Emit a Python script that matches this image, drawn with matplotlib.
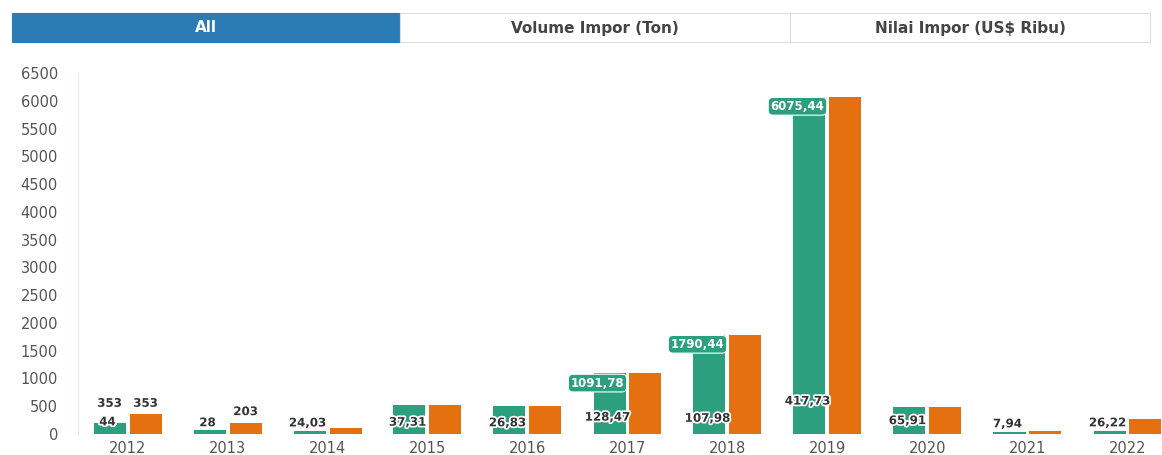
import matplotlib
matplotlib.use("Agg")
import matplotlib.pyplot as plt
import matplotlib.patheffects as pe
from matplotlib.patches import Rectangle
import numpy as np

# Data (comma = decimal separator)
years = ['2012', '2013', '2014', '2015', '2016', '2017', '2018', '2019', '2020', '2021', '2022']
volume = [44, 28, 24.03, 37.31, 26.83, 128.47, 107.98, 417.73, 65.91, 7.94, 26.22]
# green bar heights as they appear in the screenshot
volume_bar = [200, 70, 60, 520, 500, 1090, 1790, 6075, 490, 40, 60]
nilai = [353, 203, 100, 525, 500, 1091.78, 1790.44, 6075.44, 490, 50, 265]
# which nilai labels are visible: 'top' above the orange bar, 'box' inside the green bar
nilai_label_style = ['top', 'top', '', '', '', 'box', 'box', 'box', '', '', '']
tabs = ['All', 'Volume Impor (Ton)', 'Nilai Impor (US$ Ribu)']

green = '#2b9f7e'
orange = '#e5700f'
blue = '#2b7bb5'


def fmt(v):
    return f"{v:g}".replace('.', ',')


W, H = 1162, 455
fig = plt.figure(figsize=(W / 100, H / 100), dpi=100)
ax = fig.add_axes([77.5 / W, (H - 434) / H, 1 - 77.5 / W, (434 - 73) / H])

x = np.arange(len(years))
bw = 0.32
ax.bar(x - 0.18, volume_bar, width=bw, color=green, zorder=2)
ax.bar(x + 0.18, nilai, width=bw, color=orange, zorder=2)

halo = [pe.withStroke(linewidth=2.5, foreground='white')]

# volume labels near the base of the green bars
for i, v in enumerate(volume):
    ax.annotate(fmt(v), (x[i] - 0.2, v), xytext=(0, 7), textcoords='offset points',
                ha='center', va='center', fontsize=8.5, fontweight='bold',
                color='#333333', path_effects=halo, zorder=4)

# nilai labels
for i, (v, st) in enumerate(zip(nilai, nilai_label_style)):
    if st == 'top':
        ax.annotate(fmt(v), (x[i] + 0.18, v), xytext=(0, 8), textcoords='offset points',
                    ha='center', va='center', fontsize=8.5, fontweight='bold',
                    color='#333333', path_effects=halo, zorder=4)
        if i == 0:
            ax.annotate(fmt(v), (x[i] - 0.18, v), xytext=(0, 8), textcoords='offset points',
                        ha='center', va='center', fontsize=8.5, fontweight='bold',
                        color='#333333', path_effects=halo, zorder=4)
    elif st == 'box':
        ax.annotate(fmt(v), (x[i] - 0.3, v), xytext=(0, -7), textcoords='offset points',
                    ha='center', va='center', fontsize=8.5, fontweight='bold',
                    color='white', zorder=5,
                    bbox=dict(boxstyle='round,pad=0.2,rounding_size=0.4',
                              fc=green, ec='white', lw=0.8))

ax.set_xlim(-0.5, (W - 127.5) / 100)
ax.set_ylim(0, 6500)
ax.set_yticks(np.arange(0, 6501, 500))
ax.set_xticks(x)
ax.set_xticklabels(years)
ax.tick_params(axis='y', length=0, pad=14, labelsize=10.5, labelcolor='#555555')
ax.tick_params(axis='x', length=0, pad=5, labelsize=10.5, labelcolor='#555555')
for s in ['top', 'right', 'bottom']:
    ax.spines[s].set_visible(False)
ax.spines['left'].set_color('#f0e6e6')
ax.set_facecolor('white')

# tab bar at the top
tab_x = [12, 400, 790, 1150]
for j, label in enumerate(tabs):
    x0, x1 = tab_x[j], tab_x[j + 1]
    active = j == 0
    fig.patches.append(Rectangle((x0 / W, 1 - 42 / H), (x1 - x0) / W, 29 / H,
                                 transform=fig.transFigure,
                                 fc=blue if active else 'white',
                                 ec=blue if active else '#dddddd', lw=0.8))
    fig.text((x0 + x1) / 2 / W, 1 - 28 / H, label, ha='center', va='center',
             fontsize=11, fontweight='bold', color='white' if active else '#444444')

fig.savefig('out.png', dpi=100)
